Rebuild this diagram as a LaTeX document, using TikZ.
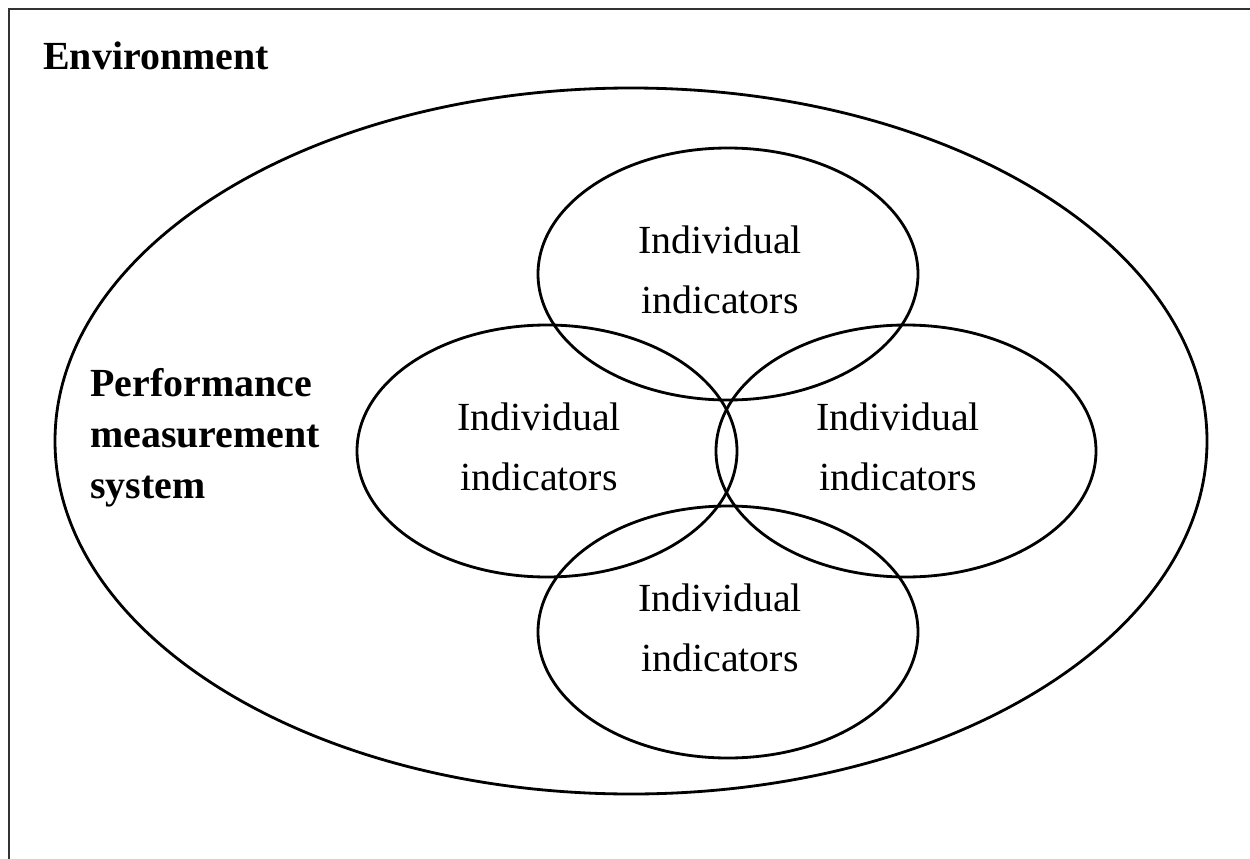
\documentclass[tikz,border=0pt]{standalone}
\usepackage{fontspec}
\setmainfont{Liberation Serif}
\usetikzlibrary{shapes.geometric}

\begin{document}
\begin{tikzpicture}[every node/.style={font=\fontsize{22.7}{34}\selectfont},
      frame/.style={draw=black!80, line width=1pt},
      system/.style={ellipse, draw, line width=1.6pt, minimum width=23.04cm, minimum height=14.12cm, inner sep=0pt},
      indicator/.style={ellipse, draw, line width=1.6pt, minimum width=7.6cm, minimum height=5.04cm, inner sep=0pt},
      indtext/.style={align=center, inner sep=0pt},
      title/.style={font=\bfseries\fontsize{22.7}{29}\selectfont, inner sep=0pt}]

      \useasboundingbox (0,0) rectangle (25,17.16);

      % Frame (only top and left edge inside the picture)
      \draw[frame] (0.18,-1) |- (26,16.98);
      \node[title, anchor=base west] (env) at (0.86,15.76) {Environment};

      % Measurement system
      \node[system] (pms) at (12.62,8.34) {};
      \node[title, anchor=base west, align=left] (pmslabel) at (1.8,7.2) {Performance\\measurement\\system};

      % Indicators
      \node[indicator] (top) at (14.56,11.68) {};
      \node[indicator] (left) at (10.94,8.14) {};
      \node[indicator] (right) at (18.12,8.14) {};
      \node[indicator] (bottom) at (14.56,4.52) {};

      \foreach \e in {top, left, right, bottom} {
        \node[indtext] (\e text) at ([shift={(-0.16,0.08)}]\e.center) {Individual\\indicators};
      }
    \end{tikzpicture}
\end{document}
